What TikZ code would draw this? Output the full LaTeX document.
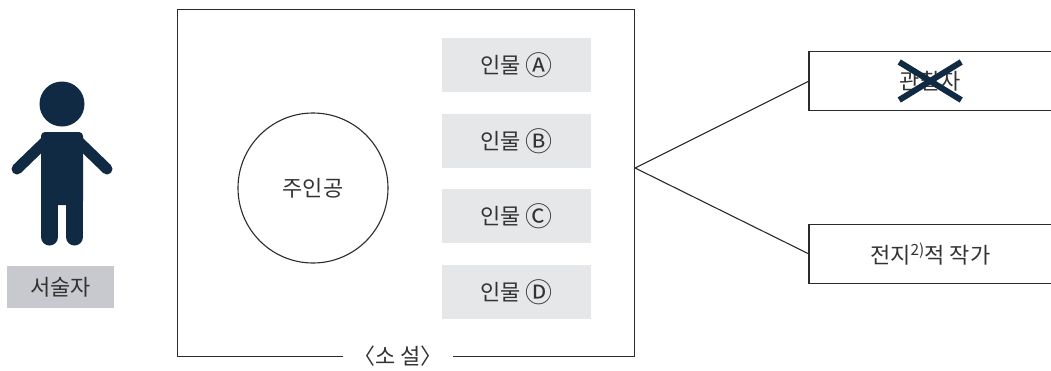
\documentclass[tikz,border=0pt]{standalone}
\usepackage{fontspec}
\setmainfont{Noto Sans CJK KR}
\definecolor{navy}{HTML}{0F2A42}
\definecolor{txt}{HTML}{333333}
\definecolor{lbox}{HTML}{E6E7E8}
\definecolor{sbox}{HTML}{C8C9CE}
\definecolor{frame}{HTML}{2B2B2B}
\newcommand{\circl}[1]{{\fontsize{27}{27}\selectfont\raisebox{-1.5pt}{#1}}}
\begin{document}
\begin{tikzpicture}[x=1pt,y=-1pt,
  every node/.style={font=\fontsize{22}{26}\selectfont, text=txt},
  pbox/.style={fill=lbox, minimum width=149, minimum height=54, inner sep=0},
  rbox/.style={minimum width=242, minimum height=58, anchor=west, inner sep=0},
  ln/.style={draw=frame, line width=1.1pt}]
\useasboundingbox (0,0) rectangle (1051,370);
% person
\fill[navy] (62,104) circle (22.5);
\fill[navy, rounded corners=4] (41,205) -- (41,132) -- (83,132) -- (83,205) -- cycle;
\draw[navy, line width=17, line cap=round] (49.5,195) -- (49.5,237);
\draw[navy, line width=17, line cap=round] (74.5,195) -- (74.5,237);
\draw[navy, line width=11, line cap=round] (47,140) -- (17,169);
\draw[navy, line width=11, line cap=round] (77,140) -- (107,169);
\node[fill=sbox, minimum width=107, minimum height=42, inner sep=0] (narr) at (60.5,287) {서술자};
% novel frame
\node[ln, minimum width=457, minimum height=347, anchor=north west, inner sep=0] (novel) at (177,9) {};
\node[fill=white, inner xsep=10pt, inner ysep=2pt] (lbl) at (398,356) {〈소 설〉};
\node[circle, ln, minimum size=150, inner sep=0] (hero) at (313,188) {주인공};
\node[pbox] (pa) at (516.5,65) {인물 \circl{Ⓐ}};
\node[pbox] (pb) at (516.5,141) {인물 \circl{Ⓑ}};
\node[pbox] (pc) at (516.5,216) {인물 \circl{Ⓒ}};
\node[pbox] (pd) at (516.5,292) {인물 \circl{Ⓓ}};
% right boxes
\node[rbox] (obs) at (809,81) {관찰자};
\node[rbox] (auth) at (809,254) {전지\textsuperscript{2)}적 작가};
\draw[ln] (obs.north east) -- (obs.north west) -- (obs.south west) -- (obs.south east);
\draw[ln] (auth.north east) -- (auth.north west) -- (auth.south west) -- (auth.south east);
\coordinate (lv) at (0,168);
\coordinate (apex) at (novel.east |- lv);
\draw[ln] (obs.west) -- (apex) -- (auth.west);
% cross
\draw[navy, line width=6] ([shift={(-31,-19)}]obs.center) -- ([shift={(31,19)}]obs.center);
\draw[navy, line width=6] ([shift={(31,-19)}]obs.center) -- ([shift={(-31,19)}]obs.center);
\end{tikzpicture}
\end{document}
